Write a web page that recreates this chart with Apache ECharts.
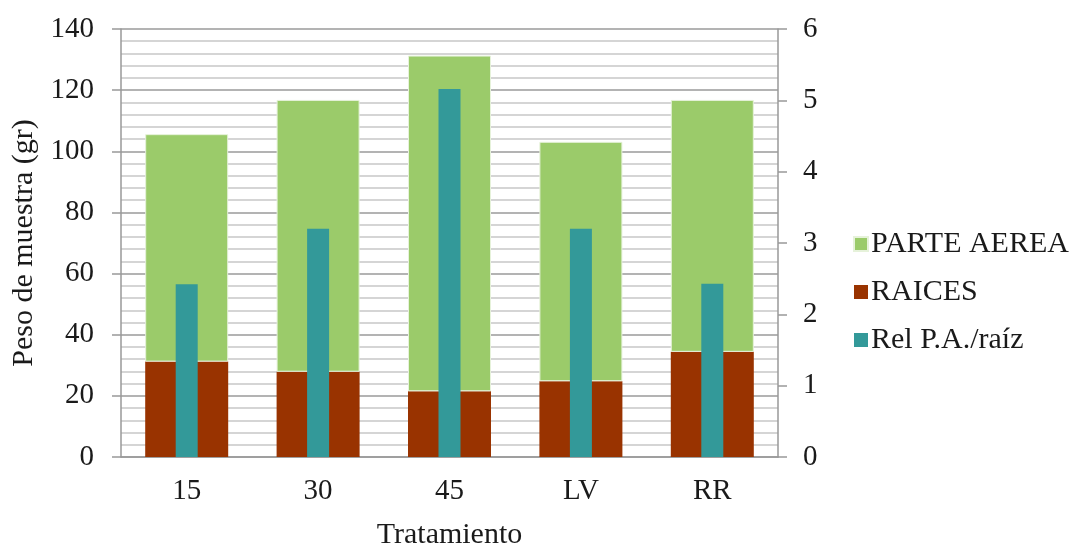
<!DOCTYPE html>
<html>
<head>
<meta charset="utf-8">
<script src="https://cdn.jsdelivr.net/npm/echarts@6/dist/echarts.min.js"></script>
<style>
  html, body { margin: 0; padding: 0; background: #fff; }
  #chart { width: 1082px; height: 547px; }
</style>
</head>
<body>
<div id="chart"></div>
<script>
const categories = ['15', '30', '45', 'LV', 'RR']
const raices = [31.2, 27.9, 21.5, 24.8, 34.4]
const parteAerea = [74.4, 88.9, 109.8, 78.3, 82.4]
const relPaRaiz = [2.42, 3.2, 5.16, 3.2, 2.43]

const font = "'Liberation Serif', 'Times New Roman', serif"
const textColor = '#1a1a1a'
const fs = 30
const tickFs = 29

const chart = echarts.init(document.getElementById('chart'))

chart.setOption({
  animation: false,
  textStyle: { fontFamily: font, color: textColor },
  grid: { left: 121, right: 304, top: 29, bottom: 90, outerBoundsMode: 'none', containLabel: false },
  legend: {
    orient: 'vertical',
    left: 848,
    top: 224,
    itemWidth: 14,
    itemHeight: 14,
    itemGap: 18,
    icon: 'rect',
    data: ['PARTE AEREA', 'RAICES', 'Rel P.A./raíz'],
    textStyle: { fontFamily: font, fontSize: fs, color: textColor, padding: [0, 0, 0, -2] },
  },
  xAxis: [
    {
      type: 'category',
      data: categories,
      name: 'Tratamiento',
      nameLocation: 'middle',
      nameGap: 63,
      nameTextStyle: { fontFamily: font, fontSize: fs, color: textColor },
      axisLine: { lineStyle: { color: '#999', width: 1.5 } },
      axisTick: { show: false },
      axisLabel: { fontFamily: font, fontSize: tickFs, color: textColor, margin: 20 },
    },
    {
      type: 'category',
      data: categories,
      show: false,
    },
  ],
  yAxis: [
    {
      type: 'value',
      min: 0,
      max: 140,
      interval: 20,
      name: 'Peso de muestra (gr)',
      nameLocation: 'middle',
      nameGap: 82,
      nameTextStyle: { fontFamily: font, fontSize: fs, color: textColor },
      axisLine: { show: true, lineStyle: { color: '#999', width: 1.5 } },
      axisTick: { show: true, inside: false, length: 9, lineStyle: { color: '#999', width: 1.5 } },
      axisLabel: { fontFamily: font, fontSize: tickFs, color: textColor, margin: 27 },
      splitLine: { show: true, lineStyle: { color: '#9a9a9a', width: 1.5 } },
      minorTick: { show: false, splitNumber: 5 },
      minorSplitLine: { show: true, lineStyle: { color: '#c8c8c8', width: 1.5 } },
    },
    {
      type: 'value',
      min: 0,
      max: 6,
      interval: 1,
      axisLine: { show: true, lineStyle: { color: '#999', width: 1.5 } },
      axisTick: { show: true, inside: false, length: 9, lineStyle: { color: '#999', width: 1.5 } },
      axisLabel: { fontFamily: font, fontSize: tickFs, color: textColor, margin: 25 },
      splitLine: { show: false },
    },
  ],
  series: [
    {
      name: 'RAICES',
      type: 'bar',
      stack: 'peso',
      barWidth: 83,
      itemStyle: { color: '#993300' },
      data: raices,
    },
    {
      name: 'PARTE AEREA',
      type: 'bar',
      stack: 'peso',
      barWidth: 83,
      itemStyle: { color: '#9BCB6A', borderColor: '#e6f2da', borderWidth: 1 },
      data: parteAerea,
    },
    {
      name: 'Rel P.A./raíz',
      type: 'bar',
      xAxisIndex: 1,
      yAxisIndex: 1,
      barWidth: 22,
      itemStyle: { color: '#339999' },
      data: relPaRaiz,
    },
  ],
})
</script>
</body>
</html>
